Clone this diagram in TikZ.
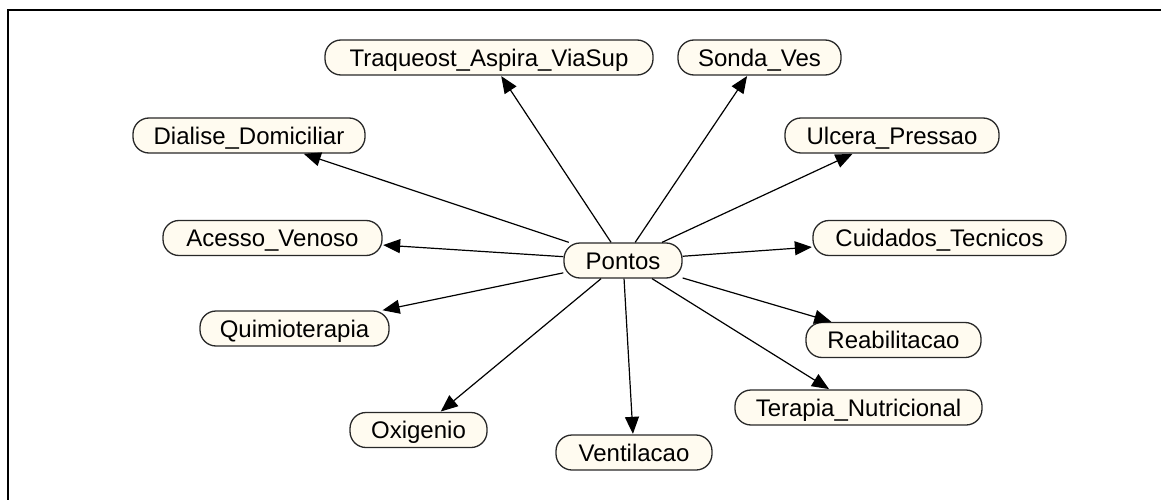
\documentclass[tikz,border=0pt]{standalone}
\usepackage{fontspec}
\setmainfont{Liberation Sans}
\usetikzlibrary{arrows.meta}
\definecolor{nodefill}{RGB}{255,251,240}
\definecolor{nodeline}{RGB}{40,40,40}
\tikzset{
  var/.style={draw=nodeline, fill=nodefill, line width=1.3pt, rounded corners=16pt,
    minimum height=35pt, inner sep=0pt, font=\fontsize{24}{28}\selectfont,
    text height=17.4pt, text depth=0pt},
  link/.style={line width=1.2pt, draw=black, -{Triangle[length=17pt,width=14pt]}, shorten >=0.5pt}
}
\begin{document}
\begin{tikzpicture}[x=1pt,y=-1pt]
\useasboundingbox (0,0) rectangle (1161,500);
\fill[white] (0,0) rectangle (1161,500);
\draw[line width=2pt] (1175,9.7) -- (7.8,9.7) -- (7.8,515);
\node[var, minimum width=328pt] (trach) at (489,57.5) {Traqueost\_Aspira\_ViaSup};
\node[var, minimum width=163pt] (sonda) at (759.5,57.5) {Sonda\_Ves};
\node[var, minimum width=232pt] (dial) at (249,135.5) {Dialise\_Domiciliar};
\node[var, minimum width=214pt] (ulc) at (892,135.5) {Ulcera\_Pressao};
\node[var, minimum width=219pt] (aces) at (272.5,238) {Acesso\_Venoso};
\node[var, minimum width=253pt] (cuid) at (939.5,238) {Cuidados\_Tecnicos};
\node[var, minimum width=118pt] (pont) at (623,260.5) {Pontos};
\node[var, minimum width=189pt] (quim) at (294.5,328.5) {Quimioterapia};
\node[var, minimum width=175pt] (reab) at (893.5,340) {Reabilitacao};
\node[var, minimum width=137pt] (oxig) at (418.5,430) {Oxigenio};
\node[var, minimum width=156pt] (vent) at (634,452.5) {Ventilacao};
\node[var, minimum width=247pt] (terap) at (858.5,407.5) {Terapia\_Nutricional};
\foreach \t in {trach,sonda,dial,ulc,aces,cuid,quim,reab,oxig,vent,terap}
  \draw[link] (pont) -- (\t);
\end{tikzpicture}
\end{document}
